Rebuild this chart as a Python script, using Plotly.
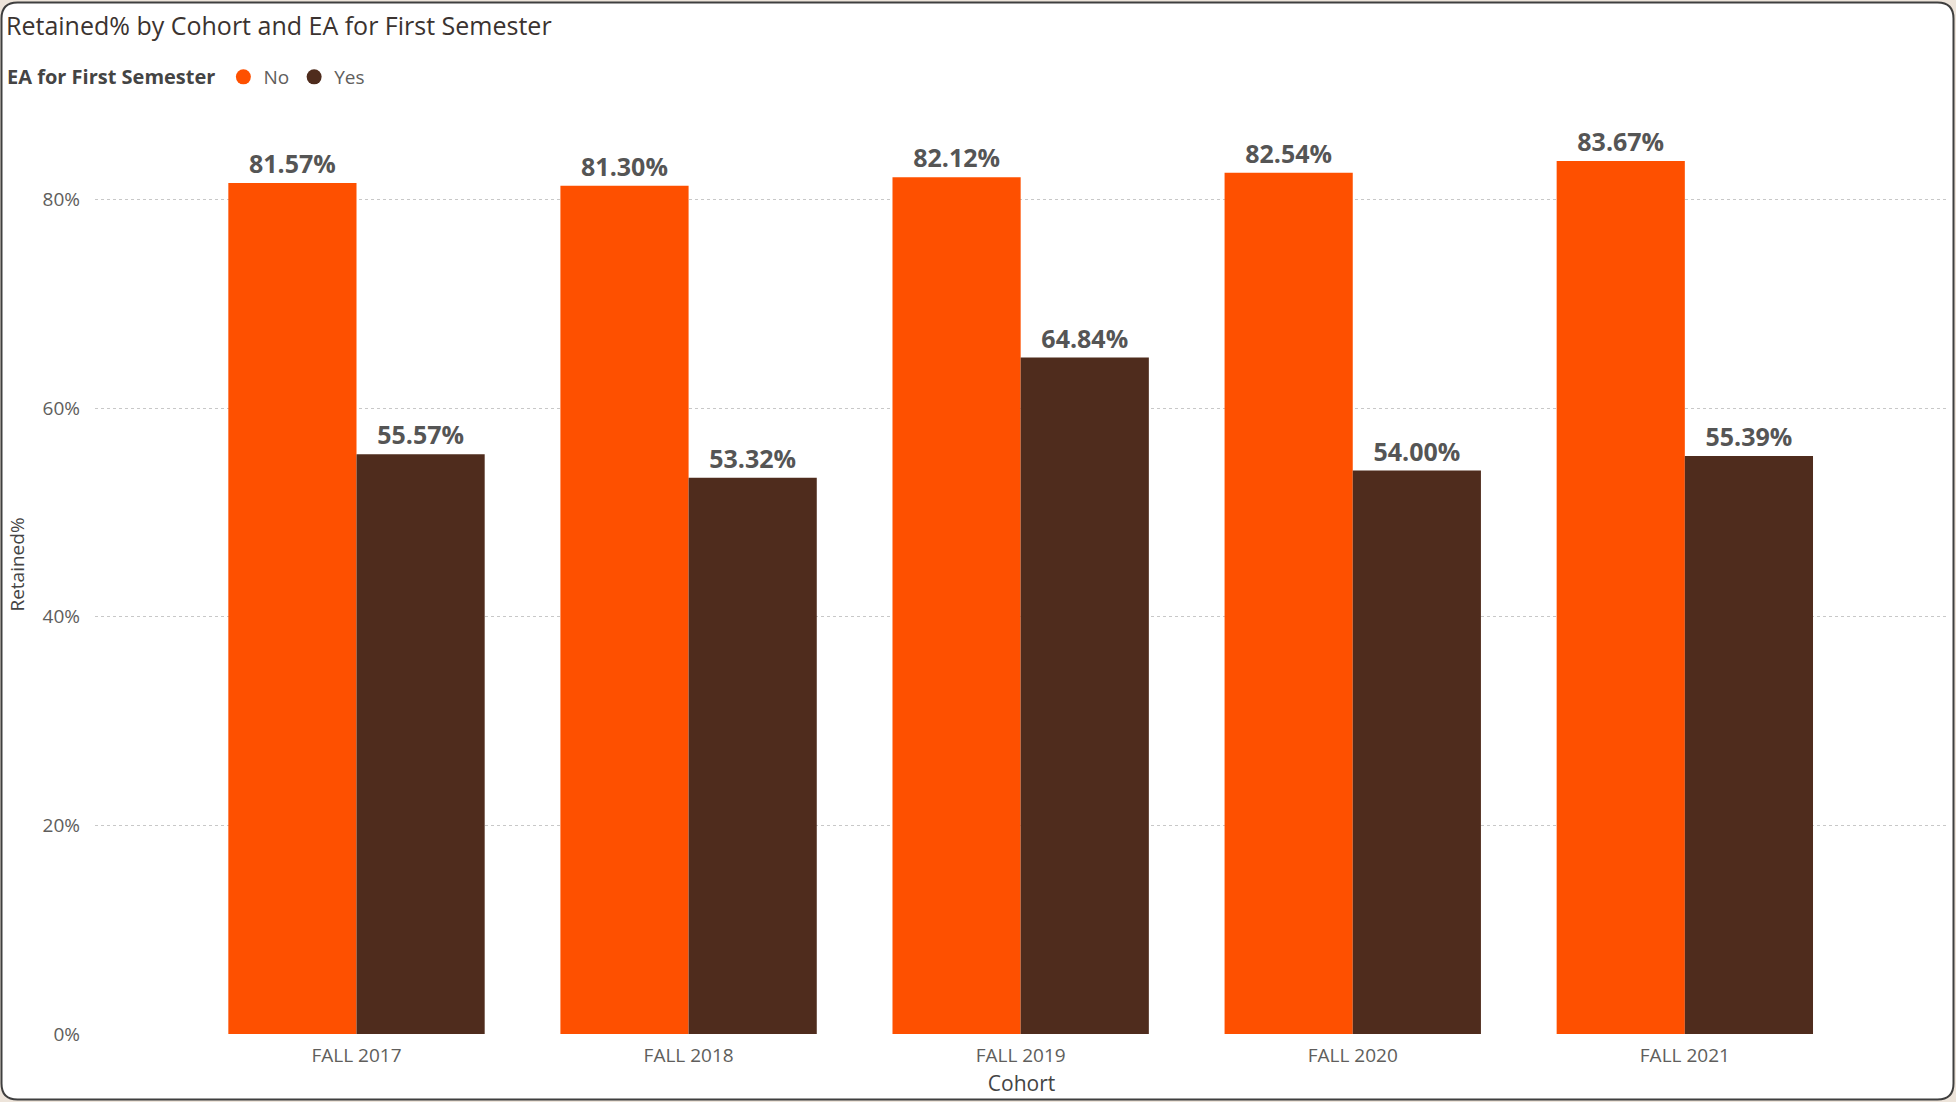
import plotly.graph_objects as go

# Retention rates by entering cohort, split by early-alert status
cohorts = ["FALL 2017", "FALL 2018", "FALL 2019", "FALL 2020", "FALL 2021"]
retained_no = [0.8157, 0.8130, 0.8212, 0.8254, 0.8367]
retained_yes = [0.5557, 0.5332, 0.6484, 0.5400, 0.5539]
y_ticks = [0, 0.2, 0.4, 0.6, 0.8]

ORANGE = "#FE5000"
BROWN = "#4F2C1D"
FONT = "Open Sans, Segoe UI, sans-serif"

W, H = 1956, 1102
L, R, T, B = 95, 8, 95, 68

fig = go.Figure()

for name, vals, col in [("No", retained_no, ORANGE), ("Yes", retained_yes, BROWN)]:
    fig.add_trace(go.Bar(
        x=cohorts, y=vals, name=name, marker=dict(color=col, line=dict(width=0)),
        text=[f"{v*100:.2f}%" for v in vals], textposition="outside",
        textfont=dict(family=FONT, size=25, color="#555555", weight="bold"),
        cliponaxis=False, showlegend=False,
    ))
    # circular legend swatch
    fig.add_trace(go.Scatter(
        x=[None], y=[None], mode="markers", name=name,
        marker=dict(symbol="circle", size=15, color=col),
    ))

# convert pixel positions to paper coordinates for the frame
pw, ph = W - L - R, H - T - B
def px(x):
    return (x - L) / pw
def py(y):
    return (H - B - y) / ph

x0, x1, y0, y1, rr = 1.5, 1953.5, 2.5, 1099.5, 16
path = (
    f"M {px(x0+rr)},{py(y0)} L {px(x1-rr)},{py(y0)} "
    f"Q {px(x1)},{py(y0)} {px(x1)},{py(y0+rr)} "
    f"L {px(x1)},{py(y1-rr)} Q {px(x1)},{py(y1)} {px(x1-rr)},{py(y1)} "
    f"L {px(x0+rr)},{py(y1)} Q {px(x0)},{py(y1)} {px(x0)},{py(y1-rr)} "
    f"L {px(x0)},{py(y0+rr)} Q {px(x0)},{py(y0)} {px(x0+rr)},{py(y0)} Z"
)
fig.add_shape(type="path", path=path, xref="paper", yref="paper",
              line=dict(color="#3f3f3f", width=2), fillcolor="white", layer="below")

fig.update_layout(
    width=W, height=H,
    margin=dict(l=L, r=R, t=T, b=B, autoexpand=False),
    paper_bgcolor="#EDE4DA",
    plot_bgcolor="rgba(0,0,0,0)",
    barmode="group", bargap=0.228, bargroupgap=0,
    font=dict(family=FONT, color="#605E5C"),
    title=dict(text="Retained% by Cohort and EA for First Semester",
               x=6 / W, xref="container", xanchor="left",
               y=1 - 26 / H, yref="container", yanchor="middle",
               font=dict(family=FONT, size=25, color="#3b3330")),
    legend=dict(orientation="h", x=px(5), xanchor="left", y=py(77), yanchor="middle",
                title=dict(text="EA for First Semester",
                           font=dict(family=FONT, size=20, color="#444444", weight="bold")),
                font=dict(family=FONT, size=19, color="#605E5C"),
                itemwidth=30, tracegroupgap=0, bgcolor="rgba(0,0,0,0)"),
    xaxis=dict(range=[-0.7875, 4.7925], showgrid=False, zeroline=False, showline=False,
               automargin=False, ticklabelstandoff=8,
               tickfont=dict(size=19, color="#605E5C"),
               title=dict(text="Cohort", font=dict(size=21, color="#444444"), standoff=9)),
    yaxis=dict(range=[0, 0.9], tickvals=y_ticks, tickformat=".0%",
               showgrid=True, gridcolor="#C8C8C8", griddash="dot", gridwidth=1,
               zeroline=False, showline=False, automargin=False, ticklabelstandoff=14,
               tickfont=dict(size=19, color="#605E5C"),
               title=dict(text="Retained%", font=dict(size=19, color="#444444"), standoff=12)),
)

fig.write_html("out.html")
